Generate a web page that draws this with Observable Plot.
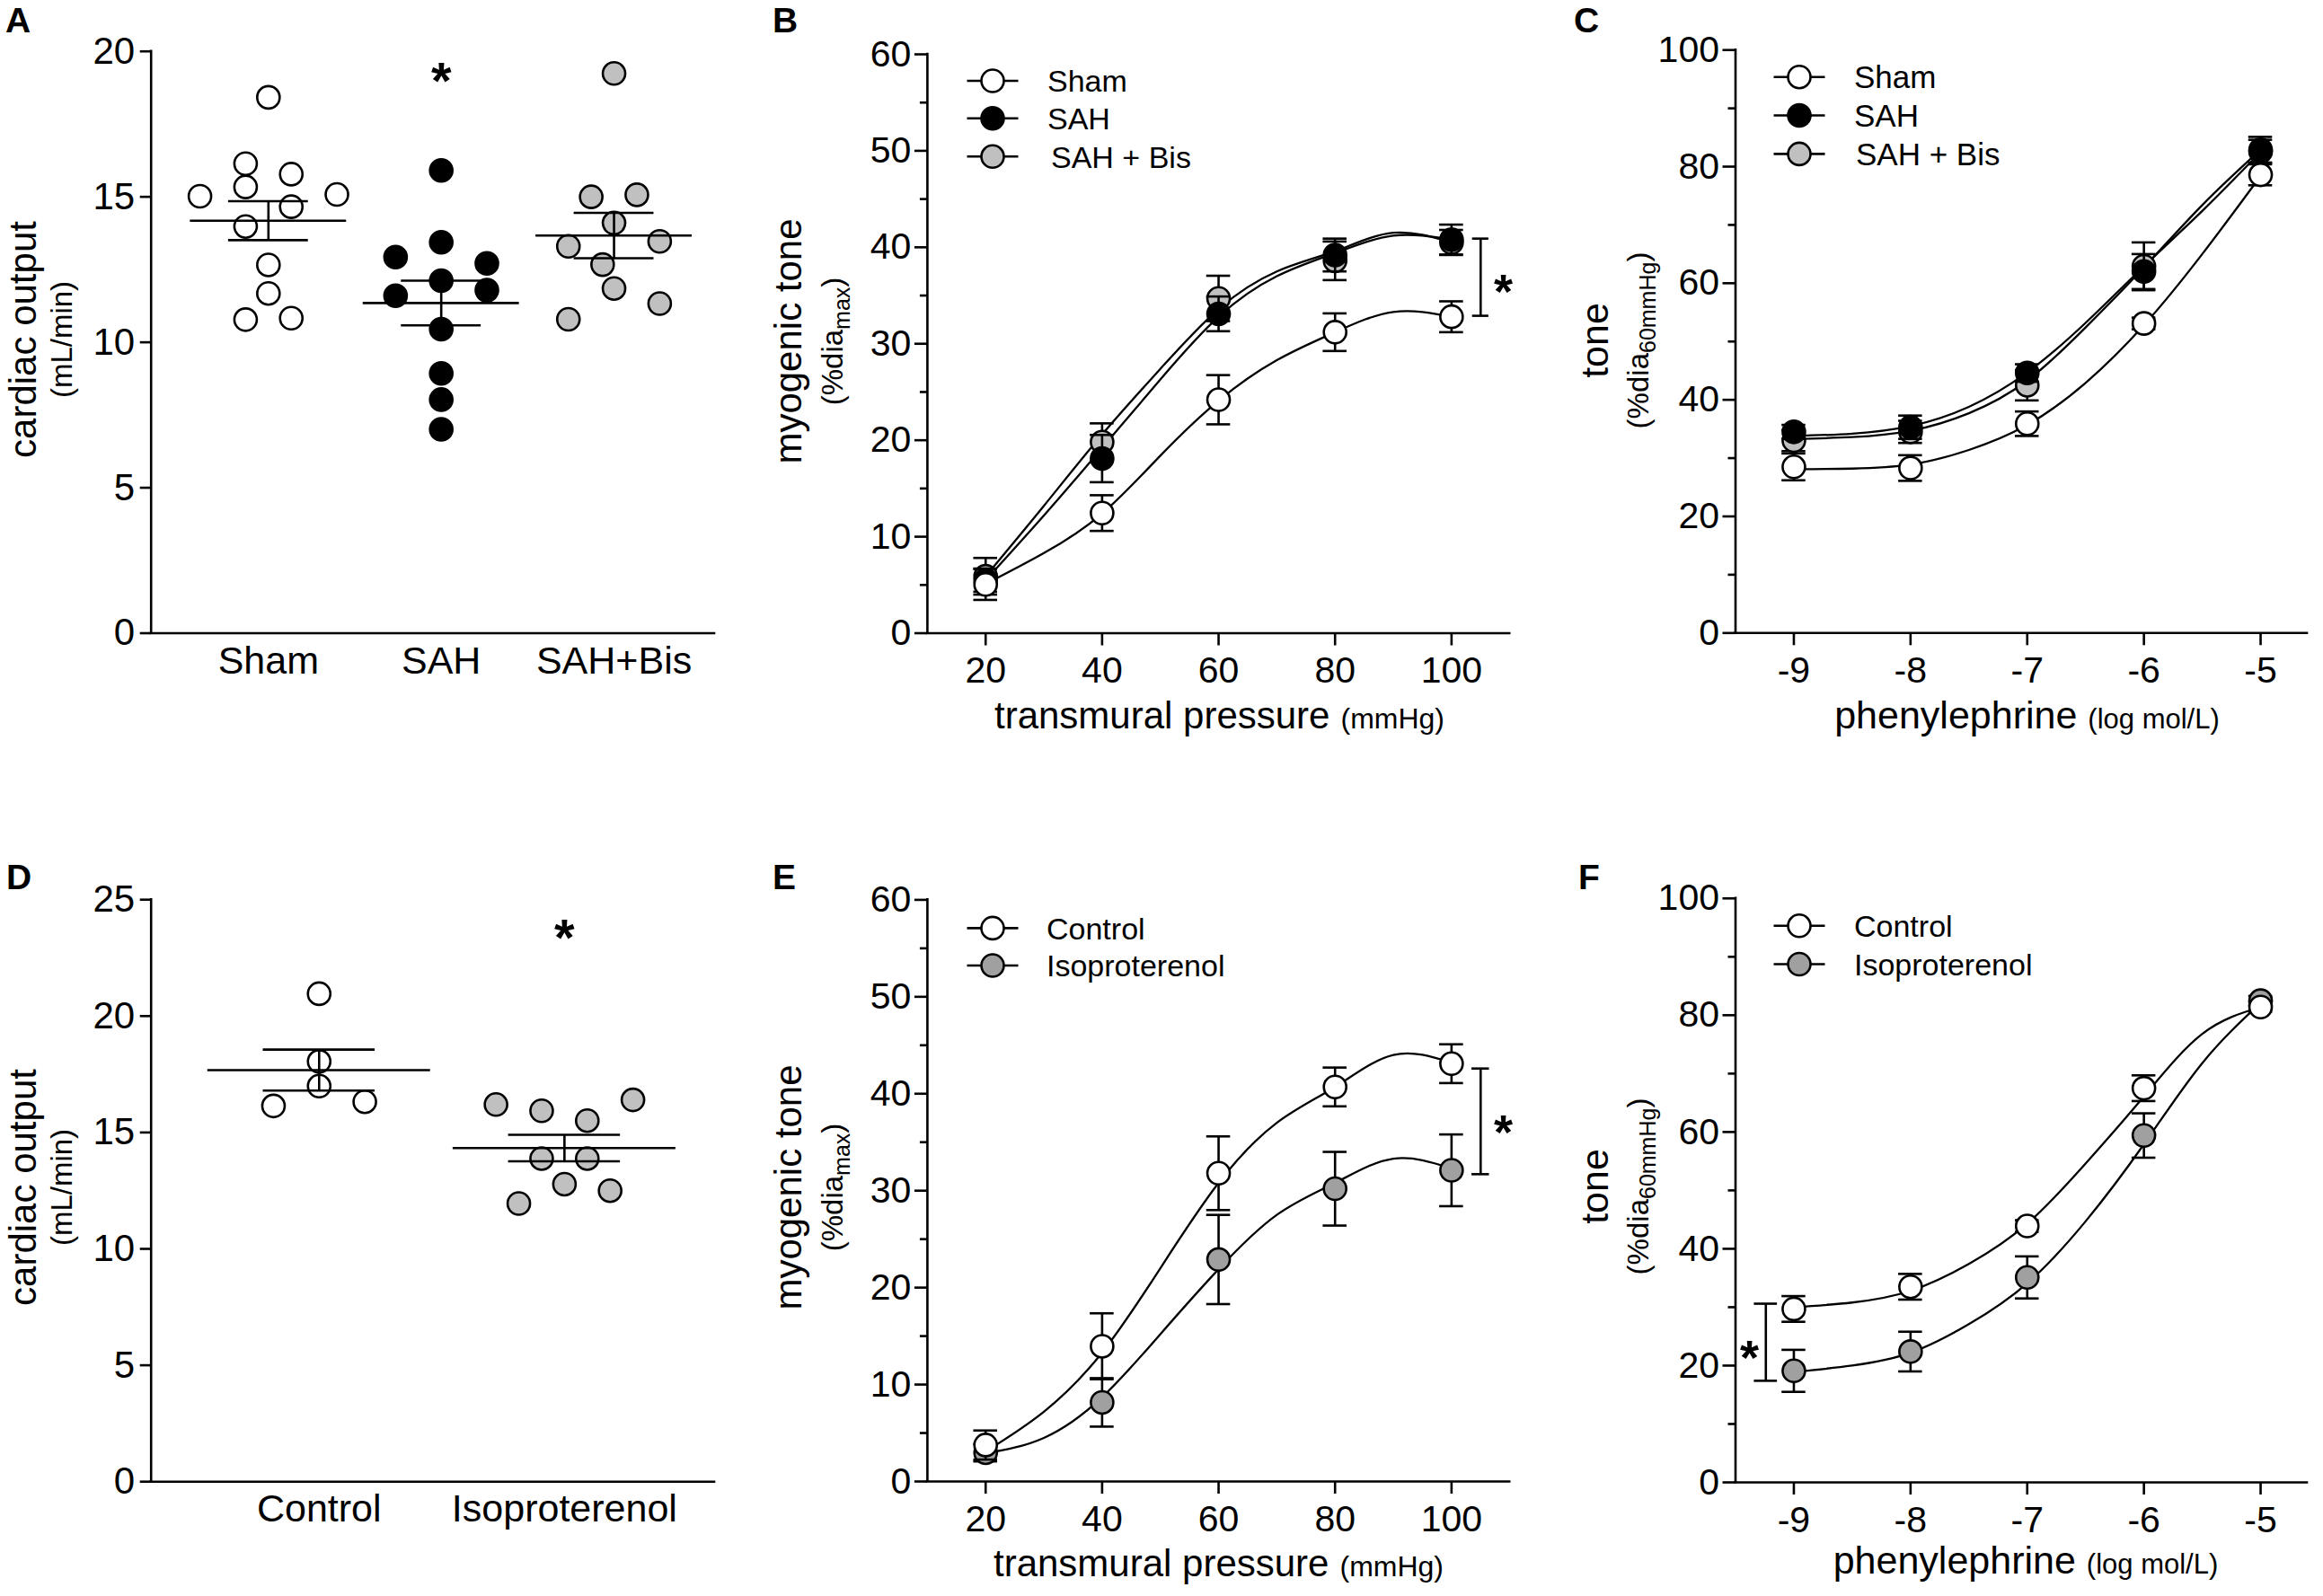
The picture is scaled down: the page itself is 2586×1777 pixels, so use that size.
<!DOCTYPE html>
<html><head><meta charset="utf-8">
<script src="https://cdn.jsdelivr.net/npm/d3@7"></script>
<script src="https://cdn.jsdelivr.net/npm/@observablehq/plot@0.6"></script>
<style>
html,body{margin:0;padding:0;background:#fff;}
#root{position:relative;width:2586px;height:1777px;overflow:hidden;background:#fff;}
</style></head>
<body><div id="root"></div>
<script>
const FONT = '"Liberation Sans", Arial, Helvetica, sans-serif';

// ---------------- Panel A : cardiac output (mL/min) ----------------
const catsA = ["Sham", "SAH", "SAH+Bis"];
const coShamA = [18.42, 16.14, 15.78, 15.34, 15.02, 15.08, 14.66, 13.98, 12.66, 11.68, 10.78, 10.83];
const slotShamA = [0, -2, 2, -2, -6, 6, 2, -2, 0, 0, -2, 2];
const coSahA = [15.91, 12.93, 13.44, 12.71, 12.12, 11.6, 11.79, 10.45, 8.93, 8.03, 7.01];
const slotSahA = [0, -4, 0, 4, 0, -4, 4, 0, 0, 0, 0];
const coBisA = [19.24, 15.0, 15.07, 14.1, 13.3, 13.47, 12.67, 11.85, 10.79, 11.33];
const slotBisA = [0, -2, 2, 0, -4, 4, -1, 0, -4, 4];
const meanA = [14.18, 11.35, 13.67];
const semA = [0.67, 0.77, 0.78];
const starA = {cat: 1, y: 19.4};

// ---------------- Panel D : cardiac output (mL/min) ----------------
const catsD = ["Control", "Isoproterenol"];
const coCtrlD = [20.96, 18.05, 16.99, 16.14, 16.32];
const slotCtrlD = [0, 0, 0, -4, 4];
const coIsoD = [16.2, 15.93, 15.51, 16.4, 13.88, 13.88, 12.78, 11.95, 12.5];
const slotIsoD = [-6, -2, 2, 6, -2, 2, 0, -4, 4];
const meanD = [17.68, 14.33];
const semD = [0.88, 0.57];
const starD = {cat: 1, y: 23.9};

// ---------------- Panel B : myogenic tone vs transmural pressure ----------------
const pressure = [20, 40, 60, 80, 100];
const pressureFit = [20, 30, 40, 50, 60, 70, 80, 90, 100];
const bShamMean = [5.05, 12.45, 24.2, 31.2, 32.8];
const bShamSem  = [1.6, 1.85, 2.55, 1.95, 1.6];
const bSahMean  = [5.5, 18.1, 33.1, 39.2, 40.8];
const bSahSem   = [1.2, 2.45, 1.8, 1.7, 1.55];
const bBisMean  = [5.9, 19.8, 34.7, 38.6, 40.5];
const bBisSem   = [1.9, 1.95, 2.35, 2.0, 1.3];
const bShamFit  = [5.1, 8.3, 12.4, 18.4, 24.1, 28.3, 31.2, 33.3, 32.8];
const bSahFit   = [5.5, 12.2, 19.2, 26.3, 32.8, 37.0, 39.4, 41.2, 40.8];
const bBisFit   = [5.9, 13.2, 20.6, 27.4, 33.6, 37.5, 39.6, 41.5, 40.5];
const bBracket  = {x: 105, y1: 32.9, y2: 40.9};
const bStar     = {x: 108.9, y: 36.6};

// ---------------- Panel E : myogenic tone vs transmural pressure ----------------
const eCtrlMean = [3.76, 13.95, 31.8, 40.7, 43.1];
const eCtrlSem  = [1.5, 3.4, 3.8, 2.0, 2.0];
const eIsoMean  = [2.97, 8.16, 22.9, 30.2, 32.1];
const eIsoSem   = [0.9, 2.5, 4.6, 3.8, 3.7];
const eCtrlFit  = [3.1, 7.2, 13.3, 22.0, 30.8, 37.0, 40.7, 44.0, 43.2];
const eIsoFit   = [2.9, 4.5, 8.7, 15.2, 21.9, 27.5, 30.8, 33.3, 32.3];
const eBracket  = {x: 105, y1: 31.7, y2: 42.6};
const eStar     = {x: 108.9, y: 37.2};

// ---------------- Panel C : tone vs phenylephrine ----------------
const logPE = [-9, -8, -7, -6, -5];
const logPEFit = [-9, -8.5, -8, -7.5, -7, -6.5, -6, -5.5, -5];
const cShamMean = [28.5, 28.3, 35.9, 53.1, 78.6];
const cShamSem  = [2.3, 2.2, 2.1, 1.0, 1.8];
const cSahMean  = [34.5, 35.3, 44.6, 62.0, 82.6];
const cSahSem   = [1.2, 2.0, 1.5, 3.0, 2.0];
const cBisMean  = [33.0, 34.5, 42.5, 62.9, 82.9];
const cBisSem   = [1.8, 1.9, 2.6, 4.1, 2.2];
const cShamFit  = [28.1, 28.2, 28.9, 31.4, 35.7, 42.9, 52.8, 65.0, 78.4];
const cSahFit   = [33.8, 34.2, 35.5, 38.8, 44.7, 53.2, 62.9, 72.4, 82.5];
const cBisFit   = [33.3, 33.6, 34.7, 37.7, 43.3, 52.4, 62.7, 73.4, 82.9];

// ---------------- Panel F : tone vs phenylephrine ----------------
const fCtrlMean = [29.7, 33.5, 43.9, 67.5, 81.4];
const fCtrlSem  = [2.2, 2.2, 1.0, 2.2, 0.8];
const fIsoMean  = [19.1, 22.4, 35.1, 59.4, 82.5];
const fIsoSem   = [3.6, 3.4, 3.6, 3.8, 0.8];
const fCtrlFit  = [30.0, 30.8, 32.8, 37.4, 44.3, 54.6, 66.1, 76.8, 81.4];
const fIsoFit   = [18.9, 20.0, 22.2, 27.1, 34.1, 44.7, 57.9, 71.8, 82.1];
const fBracket  = {x: -9.24, y1: 17.4, y2: 30.6};
const fStar     = {x: -9.38, y: 23.4};

// ---------------- styling ----------------
const WHITE = "#ffffff", BLACK = "#000000", LIGHT = "#c0c0c0", MID = "#a0a0a0";
const LW = 2.6, R = 12.5;
const root = document.getElementById("root");

function mount(svg, region) {
  svg.style.position = "absolute";
  svg.style.left = region.left + "px";
  svg.style.top = region.top + "px";
  root.appendChild(svg);
}
function baseOptions(region, frame, xDomain, yDomain) {
  return {
    width: region.width, height: region.height,
    marginLeft: frame.x0 - region.left,
    marginRight: region.left + region.width - frame.x1,
    marginTop: frame.y0 - region.top,
    marginBottom: region.top + region.height - frame.y1,
    style: {fontFamily: FONT, background: "transparent", overflow: "visible", color: "black"},
    x: {type: "linear", domain: xDomain},
    y: {type: "linear", domain: yDomain}
  };
}
function axisLines(xDomain, yDomain) {
  return [
    Plot.ruleX([{x: xDomain[0], a: yDomain[0], b: yDomain[1]}], {x: "x", y1: "a", y2: "b", stroke: BLACK, strokeWidth: LW, strokeLinecap: "square"}),
    Plot.ruleY([{y: yDomain[0], a: xDomain[0], b: xDomain[1]}], {y: "y", x1: "a", x2: "b", stroke: BLACK, strokeWidth: LW, strokeLinecap: "square"})
  ];
}
function starMark(pt, fs) {
  return Plot.text([pt], {x: "x", y: "y", text: () => "*", fontSize: fs, fontWeight: "bold", dy: 0.26 * fs, fill: BLACK});
}

// ---------- scatter (cardiac output) panels ----------
function catPanel(cfg) {
  const {region, frame, cats, xDomain, yDomain, yTicks, groups, means, sems, slotUnit, meanHalf, semHalf, star} = cfg;
  const marks = [
    Plot.axisY({ticks: yTicks, tickSize: 12, tickPadding: 6, fontSize: 42, tickFormat: d => String(d), label: null, strokeWidth: LW}),
    Plot.axisX({ticks: cats.map((c, i) => i), tickSize: 0, tickPadding: 14, fontSize: 43, tickFormat: i => cats[i], label: null}),
    ...axisLines(xDomain, yDomain)
  ];
  groups.forEach((g, gi) => {
    const pts = g.values.map((v, i) => ({x: gi + g.slots[i] * slotUnit, y: v}));
    marks.push(Plot.dot(pts, {x: "x", y: "y", r: R, fill: g.fill, stroke: BLACK, strokeWidth: LW}));
  });
  const ms = means.map((m, i) => ({i, m, s: sems[i]}));
  marks.push(
    Plot.ruleY(ms, {y: "m", x1: d => d.i - meanHalf, x2: d => d.i + meanHalf, stroke: BLACK, strokeWidth: LW}),
    Plot.ruleY(ms, {y: d => d.m + d.s, x1: d => d.i - semHalf, x2: d => d.i + semHalf, stroke: BLACK, strokeWidth: LW}),
    Plot.ruleY(ms, {y: d => d.m - d.s, x1: d => d.i - semHalf, x2: d => d.i + semHalf, stroke: BLACK, strokeWidth: LW}),
    Plot.ruleX(ms, {x: "i", y1: d => d.m - d.s, y2: d => d.m + d.s, stroke: BLACK, strokeWidth: LW}),
    starMark({x: star.cat, y: star.y}, 58)
  );
  const svg = Plot.plot({...baseOptions(region, frame, xDomain, yDomain), marks});
  mount(svg, region);
}

// ---------- concentration / pressure response panels ----------
function xyPanel(cfg) {
  const {region, frame, xDomain, yDomain, xTicks, yTicks, yMinor, capHalf, fitX, series, bracket, bracketCap, star} = cfg;
  const marks = [
    Plot.axisY({ticks: yTicks, tickSize: 14, tickPadding: 4, fontSize: 41, tickFormat: d => String(d), label: null, strokeWidth: LW}),
    Plot.axisY({ticks: yMinor, tickSize: 8, tickFormat: () => "", label: null, strokeWidth: LW}),
    Plot.axisX({ticks: xTicks, tickSize: 14, tickPadding: 12, fontSize: 41, tickFormat: d => String(d), label: null, strokeWidth: LW}),
    ...axisLines(xDomain, yDomain)
  ];
  series.forEach(s => {
    const fit = fitX.map((x, i) => ({x, y: s.fit[i]}));
    marks.push(Plot.line(fit, {x: "x", y: "y", curve: "natural", stroke: BLACK, strokeWidth: 2.3}));
  });
  series.forEach(s => {
    const pts = s.x.map((x, i) => ({x, y: s.mean[i], e: s.sem[i]}));
    marks.push(
      Plot.ruleX(pts, {x: "x", y1: d => d.y - d.e, y2: d => d.y + d.e, stroke: BLACK, strokeWidth: LW}),
      Plot.ruleY(pts, {y: d => d.y + d.e, x1: d => d.x - capHalf, x2: d => d.x + capHalf, stroke: BLACK, strokeWidth: LW}),
      Plot.ruleY(pts, {y: d => d.y - d.e, x1: d => d.x - capHalf, x2: d => d.x + capHalf, stroke: BLACK, strokeWidth: LW}),
      Plot.dot(pts, {x: "x", y: "y", r: R, fill: s.fill, stroke: BLACK, strokeWidth: LW})
    );
  });
  if (bracket) {
    marks.push(
      Plot.ruleX([bracket], {x: "x", y1: "y1", y2: "y2", stroke: BLACK, strokeWidth: LW}),
      Plot.ruleY([bracket.y1, bracket.y2], {y: d => d, x1: bracket.x - bracketCap, x2: bracket.x + bracketCap, stroke: BLACK, strokeWidth: LW}),
      starMark(star, 54)
    );
  }
  const svg = Plot.plot({...baseOptions(region, frame, xDomain, yDomain), marks});
  mount(svg, region);
}

const regions = {
  A: {left: 0, top: 0, width: 850, height: 888},
  B: {left: 850, top: 0, width: 870, height: 888},
  C: {left: 1720, top: 0, width: 866, height: 888},
  D: {left: 0, top: 888, width: 850, height: 889},
  E: {left: 850, top: 888, width: 870, height: 889},
  F: {left: 1720, top: 888, width: 866, height: 889}
};

catPanel({
  region: regions.A, frame: {x0: 167.7, x1: 795, y0: 56.7, y1: 704.5},
  cats: catsA, xDomain: [-0.679, 2.582], yDomain: [0, 20], yTicks: [0, 5, 10, 15, 20],
  groups: [
    {values: coShamA, slots: slotShamA, fill: WHITE},
    {values: coSahA, slots: slotSahA, fill: BLACK},
    {values: coBisA, slots: slotBisA, fill: LIGHT}
  ],
  means: meanA, sems: semA, slotUnit: 12.7 / 192.3, meanHalf: 0.452, semHalf: 0.231, star: starA
});

catPanel({
  region: regions.D, frame: {x0: 167.7, x1: 795, y0: 1001.2, y1: 1649.2},
  cats: catsD, xDomain: [-0.685, 1.612], yDomain: [0, 25], yTicks: [0, 5, 10, 15, 20, 25],
  groups: [
    {values: coCtrlD, slots: slotCtrlD, fill: WHITE},
    {values: coIsoD, slots: slotIsoD, fill: LIGHT}
  ],
  means: meanD, sems: semD, slotUnit: 12.7 / 273, meanHalf: 0.454, semHalf: 0.228, star: starD
});

xyPanel({
  region: regions.B, frame: {x0: 1031.9, x1: 1680.2, y0: 60, y1: 704.5},
  xDomain: [10, 110], yDomain: [0, 60], xTicks: pressure,
  yTicks: [0, 10, 20, 30, 40, 50, 60], yMinor: [5, 15, 25, 35, 45, 55],
  capHalf: 2.05, fitX: pressureFit,
  series: [
    {x: pressure, mean: bBisMean, sem: bBisSem, fit: bBisFit, fill: LIGHT},
    {x: pressure, mean: bSahMean, sem: bSahSem, fit: bSahFit, fill: BLACK},
    {x: pressure, mean: bShamMean, sem: bShamSem, fit: bShamFit, fill: WHITE}
  ],
  bracket: bBracket, bracketCap: 1.4, star: bStar
});

xyPanel({
  region: regions.E, frame: {x0: 1031.9, x1: 1680.2, y0: 1001.4, y1: 1649},
  xDomain: [10, 110], yDomain: [0, 60], xTicks: pressure,
  yTicks: [0, 10, 20, 30, 40, 50, 60], yMinor: [5, 15, 25, 35, 45, 55],
  capHalf: 2.05, fitX: pressureFit,
  series: [
    {x: pressure, mean: eIsoMean, sem: eIsoSem, fit: eIsoFit, fill: MID},
    {x: pressure, mean: eCtrlMean, sem: eCtrlSem, fit: eCtrlFit, fill: WHITE}
  ],
  bracket: eBracket, bracketCap: 1.5, star: eStar
});

xyPanel({
  region: regions.C, frame: {x0: 1931.5, x1: 2568, y0: 55.2, y1: 704.3},
  xDomain: [-9.5, -4.6], yDomain: [0, 100], xTicks: logPE,
  yTicks: [0, 20, 40, 60, 80, 100], yMinor: [10, 30, 50, 70, 90],
  capHalf: 0.102, fitX: logPEFit,
  series: [
    {x: logPE, mean: cBisMean, sem: cBisSem, fit: cBisFit, fill: LIGHT},
    {x: logPE, mean: cSahMean, sem: cSahSem, fit: cSahFit, fill: BLACK},
    {x: logPE, mean: cShamMean, sem: cShamSem, fit: cShamFit, fill: WHITE}
  ]
});

xyPanel({
  region: regions.F, frame: {x0: 1931.5, x1: 2568, y0: 999.8, y1: 1650},
  xDomain: [-9.5, -4.6], yDomain: [0, 100], xTicks: logPE,
  yTicks: [0, 20, 40, 60, 80, 100], yMinor: [10, 30, 50, 70, 90],
  capHalf: 0.102, fitX: logPEFit,
  series: [
    {x: logPE, mean: fIsoMean, sem: fIsoSem, fit: fIsoFit, fill: MID},
    {x: logPE, mean: fCtrlMean, sem: fCtrlSem, fit: fCtrlFit, fill: WHITE}
  ],
  bracket: fBracket, bracketCap: 0.099, star: fStar
});

// ---------------- text overlay: panel letters, axis titles, legends ----------------
const ov = d3.select("#root").append("svg")
  .attr("width", 2586).attr("height", 1777)
  .style("position", "absolute").style("left", "0px").style("top", "0px")
  .style("font-family", FONT).attr("fill", "black");

const letters = [["A", 6, 36], ["B", 860, 36], ["C", 1752, 36], ["D", 7, 990], ["E", 860, 990], ["F", 1757, 990]];
letters.forEach(([t, x, y]) => ov.append("text").attr("x", x).attr("y", y).attr("font-size", 39).attr("font-weight", "bold").text(t));

function yTitle(bx, cy, main, mainSize, sx, parts) {
  ov.append("text").attr("transform", `translate(${bx},${cy}) rotate(-90)`).attr("text-anchor", "middle")
    .attr("font-size", mainSize).text(main);
  const t = ov.append("text").attr("transform", `translate(${sx},${cy}) rotate(-90)`).attr("text-anchor", "middle");
  parts.forEach(p => {
    const ts = t.append("tspan").attr("font-size", p.size).text(p.text);
    if (p.dy) ts.attr("dy", p.dy);
  });
}
yTitle(40, 378, "cardiac output", 42, 80, [{text: "(mL/min)", size: 33}]);
yTitle(40, 1322, "cardiac output", 42, 80, [{text: "(mL/min)", size: 33}]);
const subMax = [{text: "(%dia", size: 33}, {text: "max", size: 25, dy: 8}, {text: ")", size: 33, dy: -8}];
const sub60 = [{text: "(%dia", size: 33}, {text: "60mmHg", size: 25, dy: 8}, {text: ")", size: 33, dy: -8}];
yTitle(892, 380, "myogenic tone", 42, 938, subMax);
yTitle(892, 1322, "myogenic tone", 42, 938, subMax);
yTitle(1790, 379, "tone", 43, 1835, sub60);
yTitle(1790, 1321, "tone", 43, 1835, sub60);

function xTitle(cx, by, main, mainSize, unit, unitSize) {
  const t = ov.append("text").attr("x", cx).attr("y", by).attr("text-anchor", "middle");
  t.append("tspan").attr("font-size", mainSize).text(main);
  t.append("tspan").attr("font-size", unitSize).attr("dx", 12).text(unit);
}
xTitle(1357.5, 811, "transmural pressure", 42, "(mmHg)", 32);
xTitle(1356.5, 1755, "transmural pressure", 42, "(mmHg)", 32);
xTitle(2256.5, 811, "phenylephrine", 43, "(log mol/L)", 31);
xTitle(2255, 1752, "phenylephrine", 43, "(log mol/L)", 31);

const legB = [["Sham", WHITE, 0], ["SAH", BLACK, 0], ["SAH + Bis", LIGHT, 4]];
const legC = [["Sham", WHITE, 0], ["SAH", BLACK, 0], ["SAH + Bis", LIGHT, 2]];
const legE = [["Control", WHITE, 0], ["Isoproterenol", MID, 0]];
const legF = [["Control", WHITE, 0], ["Isoproterenol", MID, 0]];
function legend(items, cx, tx, rows, fs) {
  items.forEach(([label, fill, dx], i) => {
    const y = rows[i];
    ov.append("line").attr("x1", cx - 28.5).attr("x2", cx + 28.5).attr("y1", y).attr("y2", y)
      .attr("stroke", BLACK).attr("stroke-width", LW);
    ov.append("circle").attr("cx", cx).attr("cy", y).attr("r", R)
      .attr("fill", fill).attr("stroke", BLACK).attr("stroke-width", LW);
    ov.append("text").attr("x", tx + dx).attr("y", y + 0.36 * fs).attr("font-size", fs).text(label);
  });
}
legend(legB, 1105, 1166, [90, 131.7, 174.3], 34);
legend(legC, 2003, 2064, [85.7, 128.5, 171.4], 35);
legend(legE, 1105, 1165, [1033.4, 1075], 34);
legend(legF, 2003, 2064, [1030.8, 1073.5], 34);
</script>
</body></html>
